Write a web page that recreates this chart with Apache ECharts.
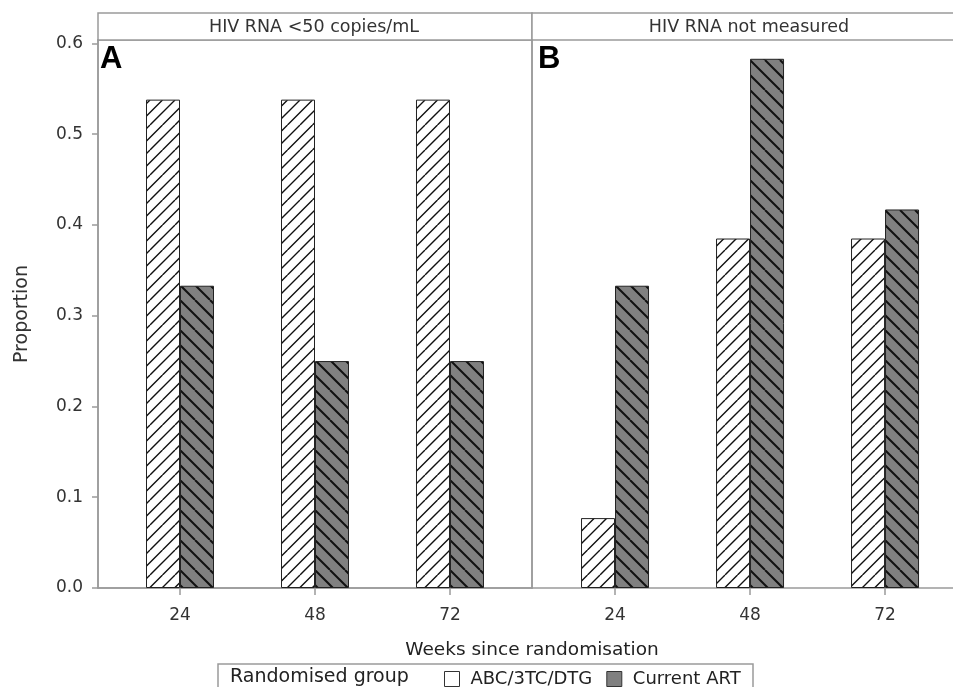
<!DOCTYPE html>
<html>
<head>
<meta charset="utf-8">
<script src="https://cdn.jsdelivr.net/npm/echarts@6/dist/echarts.min.js"></script>
<style>
html, body { margin: 0; padding: 0; background: #fff; }
#chart { width: 953px; height: 687px; }
</style>
</head>
<body>
<div id="chart"></div>
<script>
const weeks = [24, 48, 72];
const abcSuppressed = [0.538, 0.538, 0.538];
const artSuppressed = [0.333, 0.25, 0.25];
const abcNotMeasured = [0.077, 0.385, 0.385];
const artNotMeasured = [0.333, 0.583, 0.417];
const yTicks = [0, 0.1, 0.2, 0.3, 0.4, 0.5, 0.6];
const panelTitles = ['HIV RNA <50 copies/mL', 'HIV RNA not measured'];
const panelLetters = ['A', 'B'];
const groupNames = ['ABC/3TC/DTG', 'Current ART'];

const frameColor = '#9a9a9a';
const textFont = 'DejaVu Sans';

// diagonal hatch fill, dir 1 = '/', dir -1 = '\'
function hatch(bg, fg, step, reps, lw, dir) {
    const size = Math.round(step * reps);
    const c = document.createElement('canvas');
    c.width = size;
    c.height = size;
    const ctx = c.getContext('2d');
    ctx.fillStyle = bg;
    ctx.fillRect(0, 0, size, size);
    ctx.strokeStyle = fg;
    ctx.lineWidth = lw;
    ctx.beginPath();
    for (let k = -reps; k <= reps; k++) {
        const o = k * step;
        if (dir > 0) {
            ctx.moveTo(o, size);
            ctx.lineTo(o + size, 0);
        } else {
            ctx.moveTo(o, 0);
            ctx.lineTo(o + size, size);
        }
    }
    ctx.stroke();
    return { image: c, repeat: 'repeat' };
}

const lightFill = hatch('#ffffff', '#111', 12.5, 2, 1.4, 1);
const darkFill = hatch('#808080', '#111', 15, 2, 2, -1);

function bars(name, vals, idx, fill) {
    return {
        name: name,
        type: 'bar',
        xAxisIndex: idx,
        yAxisIndex: idx,
        barWidth: 34,
        barGap: '0%',
        data: weeks.map((w, i) => [w, vals[i]]),
        itemStyle: { color: fill, borderColor: '#222', borderWidth: 1 },
        emphasis: { disabled: true }
    };
}

function xAxis(idx, min, max) {
    return {
        type: 'value',
        gridIndex: idx,
        min: min,
        max: max,
        axisLine: { show: true, lineStyle: { color: frameColor, width: 1.5 } },
        axisTick: { show: true, customValues: weeks, length: 7, lineStyle: { color: frameColor, width: 1.5 } },
        axisLabel: { customValues: weeks, fontFamily: textFont, fontSize: 17, color: '#333', margin: 19 },
        splitLine: { show: false }
    };
}

function yAxis(idx) {
    const first = idx === 0;
    return {
        type: 'value',
        gridIndex: idx,
        min: 0,
        max: 0.6037,
        name: first ? 'Proportion' : '',
        nameLocation: 'middle',
        nameGap: 66,
        nameTextStyle: { fontFamily: textFont, fontSize: 19, color: '#333' },
        axisLine: { show: true, lineStyle: { color: frameColor, width: 1.5 } },
        axisTick: { show: first, customValues: yTicks, length: 6, lineStyle: { color: frameColor, width: 1.5 } },
        axisLabel: {
            show: first,
            customValues: yTicks,
            formatter: v => v.toFixed(1),
            fontFamily: textFont,
            fontSize: 17,
            color: '#333',
            margin: 15
        },
        splitLine: { show: false }
    };
}

const chart = echarts.init(document.getElementById('chart'));
chart.setOption({
    animation: false,
    grid: [
        { left: 98, top: 40, width: 434, height: 548, show: true, borderColor: frameColor, borderWidth: 1.5 },
        { left: 532, top: 40, width: 421, height: 548, show: false }
    ],
    xAxis: [xAxis(0, 9.42, 86.58), xAxis(1, 9.24, 84.08)],
    yAxis: [yAxis(0), yAxis(1)],
    legend: {
        left: 439,
        top: 665,
        itemWidth: 15,
        itemHeight: 15,
        itemGap: 14,
        icon: 'rect',
        selectedMode: false,
        textStyle: { fontFamily: textFont, fontSize: 18, color: '#222', padding: [0, 0, 0, 6] },
        data: [
            { name: groupNames[0], itemStyle: { color: '#fff', borderColor: '#333', borderWidth: 1 } },
            { name: groupNames[1], itemStyle: { color: '#808080', borderColor: '#333', borderWidth: 1 } }
        ]
    },
    graphic: [
        { type: 'rect', shape: { x: 98, y: 13, width: 434, height: 27 }, style: { fill: '#fff', stroke: frameColor, lineWidth: 1.5 } },
        { type: 'rect', shape: { x: 532, y: 13, width: 434, height: 27 }, style: { fill: '#fff', stroke: frameColor, lineWidth: 1.5 } },
        { type: 'text', x: 314, y: 27, style: { text: panelTitles[0], fill: '#333', font: '17.5px "DejaVu Sans"', textAlign: 'center', textVerticalAlign: 'middle' } },
        { type: 'text', x: 749, y: 27, style: { text: panelTitles[1], fill: '#333', font: '17.5px "DejaVu Sans"', textAlign: 'center', textVerticalAlign: 'middle' } },
        { type: 'text', x: 100, y: 44, style: { text: panelLetters[0], fill: '#000', font: 'bold 31px "Liberation Sans"' } },
        { type: 'text', x: 538, y: 44, style: { text: panelLetters[1], fill: '#000', font: 'bold 31px "Liberation Sans"' } },
        { type: 'text', x: 532, y: 650, style: { text: 'Weeks since randomisation', fill: '#222', font: '18.5px "DejaVu Sans"', textAlign: 'center', textVerticalAlign: 'middle' } },
        { type: 'rect', shape: { x: 218, y: 664, width: 535, height: 40 }, style: { fill: 'none', stroke: frameColor, lineWidth: 1.5 } },
        { type: 'text', x: 230, y: 677, style: { text: 'Randomised group', fill: '#222', font: '19px "DejaVu Sans"', textVerticalAlign: 'middle' } }
    ],
    series: [
        bars(groupNames[0], abcSuppressed, 0, lightFill),
        bars(groupNames[1], artSuppressed, 0, darkFill),
        bars(groupNames[0], abcNotMeasured, 1, lightFill),
        bars(groupNames[1], artNotMeasured, 1, darkFill)
    ]
});
</script>
</body>
</html>
